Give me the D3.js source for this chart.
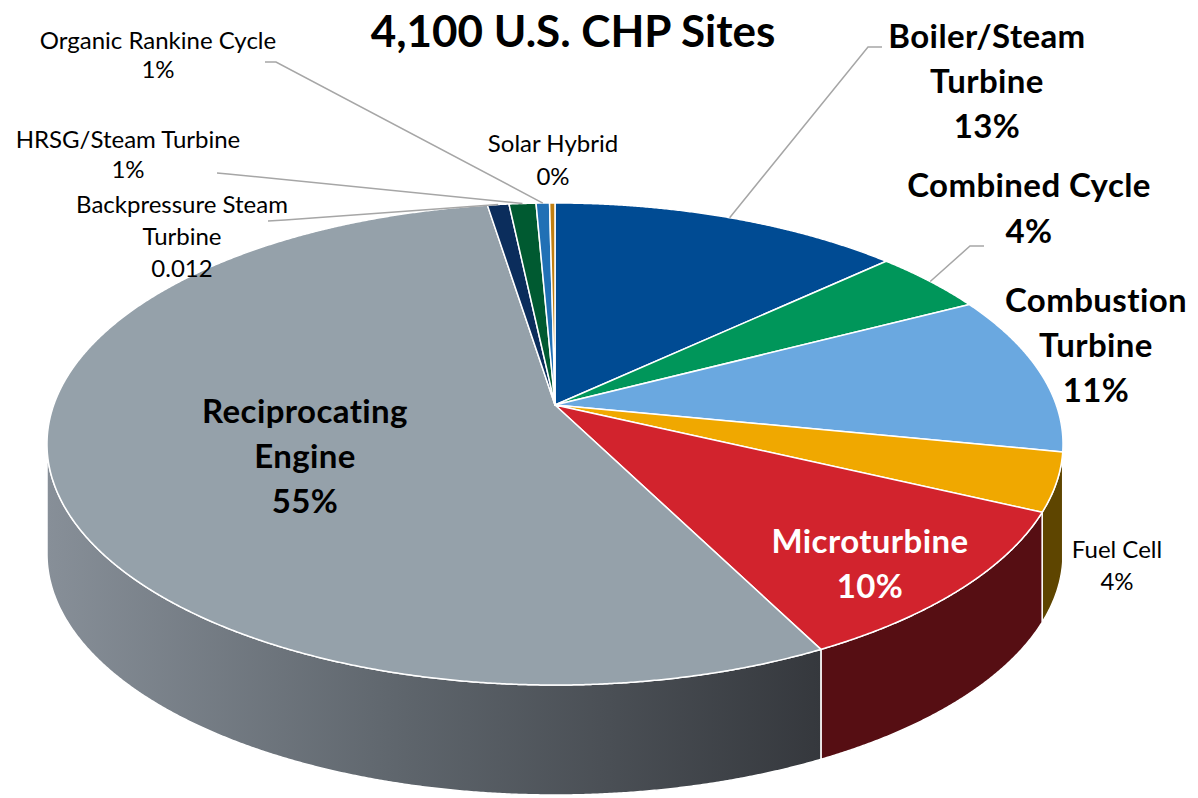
<!DOCTYPE html>
<html>
<head>
<meta charset="utf-8">
<script src="https://cdn.jsdelivr.net/npm/d3@7"></script>
<style>
body { margin: 0; background: #fff; }
text { font-family: Lato, "Open Sans", sans-serif; }
</style>
</head>
<body>
<svg id="chart" width="1198" height="798"></svg>
<script>
// data, clockwise from 12 o'clock
var categories = ["Boiler/Steam Turbine", "Combined Cycle", "Combustion Turbine", "Fuel Cell",
	"Microturbine", "Reciprocating Engine", "Backpressure Steam Turbine", "HRSG/Steam Turbine",
	"Organic Rankine Cycle", "Solar Hybrid"];
var shares = [13.1, 4.3, 10.7, 3.9, 10.5, 55.0, 0.8, 1.0, 0.5, 0.2];
var labelLines = [
	["Boiler/Steam", "Turbine", "13%"],
	["Combined Cycle", "4%"],
	["Combustion", "Turbine", "11%"],
	["Fuel Cell", "4%"],
	["Microturbine", "10%"],
	["Reciprocating", "Engine", "55%"],
	["Backpressure Steam", "Turbine", "0.012"],
	["HRSG/Steam Turbine", "1%"],
	["Organic Rankine Cycle", "1%"],
	["Solar Hybrid", "0%"]
];
var title = "4,100 U.S. CHP Sites";

var topColors = ["#004b93", "#00965a", "#6aa8e0", "#f0a800", "#d2232d",
	"#95a1aa", "#0b2d5c", "#005a31", "#2170b5", "#c07f10"];
var sideColors = ["#00264a", "#004b2d", "#355470", "#5e4500", "#560e13",
	"url(#recipSide)", "#06172e", "#002d18", "#10385a", "#644508"];

// label placement: centre x, first baseline, line step, bold, colour, leader elbow
var labelPos = [
	{x: 987, y: 48, dy: 45, bold: true, fill: "#000", leader: [[882, 47], [868, 47]]},
	{x: 1029, y: 197, dy: 46, bold: true, fill: "#000", leader: [[984, 246], [970, 246]]},
	{x: 1096, y: 312, dy: 45, bold: true, fill: "#000"},
	{x: 1117, y: 558, dy: 32, bold: false, fill: "#000"},
	{x: 870, y: 553, dy: 45, bold: true, fill: "#fff"},
	{x: 305, y: 423, dy: 45, bold: true, fill: "#000"},
	{x: 182, y: 213, dy: 32, bold: false, fill: "#000", leader: [[268, 221], [285, 220]]},
	{x: 128, y: 148, dy: 30, bold: false, fill: "#000", leader: [[217, 173], [228, 174]]},
	{x: 158, y: 49, dy: 29, bold: false, fill: "#000", leader: [[265, 62], [276, 62]]},
	{x: 553, y: 152, dy: 33, bold: false, fill: "#000"}
];

// tilted disc: vertex, horizontal/vertical reach and perspective factor
var cx = 555, cy = 405, ra = 501.3, rb = 234.7, persp = 0.1618, depth = 110;

function proj(t, dy) {
	var s = Math.sin(t), c = Math.cos(t), w = 1 + persp * c;
	return [cx + ra * s / w, cy - rb * c / w + (dy || 0)];
}

function arcPts(t0, t1, dy) {
	var n = Math.max(2, Math.ceil(Math.abs(t1 - t0) / 0.004));
	var pts = [];
	for (var i = 0; i <= n; i++) {
		pts.push(proj(t0 + (t1 - t0) * i / n, dy));
	}
	return pts;
}

var svg = d3.select("#chart");
var line = d3.line();

var grad = svg.append("defs").append("linearGradient")
	.attr("id", "recipSide")
	.attr("gradientUnits", "userSpaceOnUse")
	.attr("x1", 47).attr("x2", 822).attr("y1", 0).attr("y2", 0);
grad.append("stop").attr("offset", 0).attr("stop-color", "#878f98");
grad.append("stop").attr("offset", 0.45).attr("stop-color", "#5f666d");
grad.append("stop").attr("offset", 1).attr("stop-color", "#35383d");

var slices = d3.pie().sort(null).value(function(d) { return d; })(shares);

// front walls, only the part facing the viewer
var tR = Math.acos(-persp), tL = 2 * Math.PI - tR;

svg.append("g")
	.attr("id", "sides")
	.selectAll("path")
	.data(slices.filter(function(d) { return d.endAngle > tR && d.startAngle < tL; }))
	.enter()
	.append("path")
	.attr("d", function(d) {
		var t0 = Math.max(d.startAngle, tR), t1 = Math.min(d.endAngle, tL);
		var pts = arcPts(t0, t1, 0).concat(arcPts(t1, t0, depth));
		return line(pts) + "Z";
	})
	.attr("fill", function(d) { return sideColors[d.index]; })
	.attr("stroke", "#fff")
	.attr("stroke-width", 1.5)
	.attr("stroke-linejoin", "round");

svg.append("g")
	.attr("id", "tops")
	.selectAll("path")
	.data(slices)
	.enter()
	.append("path")
	.attr("d", function(d) {
		var pts = [[cx, cy]].concat(arcPts(d.startAngle, d.endAngle, 0));
		return line(pts) + "Z";
	})
	.attr("fill", function(d) { return topColors[d.index]; })
	.attr("stroke", "#fff")
	.attr("stroke-width", 1.5)
	.attr("stroke-linejoin", "round");

// leader lines from label elbow to the slice rim
svg.append("g")
	.attr("id", "leaders")
	.selectAll("path")
	.data(slices.filter(function(d) { return labelPos[d.index].leader; }))
	.enter()
	.append("path")
	.attr("d", function(d) {
		var mid = (d.startAngle + d.endAngle) / 2;
		return line(labelPos[d.index].leader.concat([proj(mid, 0)]));
	})
	.attr("fill", "none")
	.attr("stroke", "#a6a6a6")
	.attr("stroke-width", 1.5);

var labels = svg.append("g")
	.attr("id", "labels")
	.selectAll("text")
	.data(slices)
	.enter()
	.append("text")
	.attr("text-anchor", "middle")
	.attr("font-size", function(d) { return labelPos[d.index].bold ? 33 : 24; })
	.attr("letter-spacing", function(d) { return labelPos[d.index].bold ? 0.4 : 0; })
	.attr("font-weight", function(d) { return labelPos[d.index].bold ? "bold" : "normal"; })
	.attr("fill", function(d) { return labelPos[d.index].fill; });

labels.selectAll("tspan")
	.data(function(d) {
		return labelLines[d.index].map(function(s, i) { return {s: s, i: i, p: labelPos[d.index]}; });
	})
	.enter()
	.append("tspan")
	.attr("x", function(d) { return d.p.x; })
	.attr("y", function(d) { return d.p.y + d.i * d.p.dy; })
	.text(function(d) { return d.s; });

svg.append("text")
	.attr("x", 573)
	.attr("y", 47)
	.attr("text-anchor", "middle")
	.attr("font-size", 44)
	.attr("font-weight", "bold")
	.text(title);
</script>
</body>
</html>
